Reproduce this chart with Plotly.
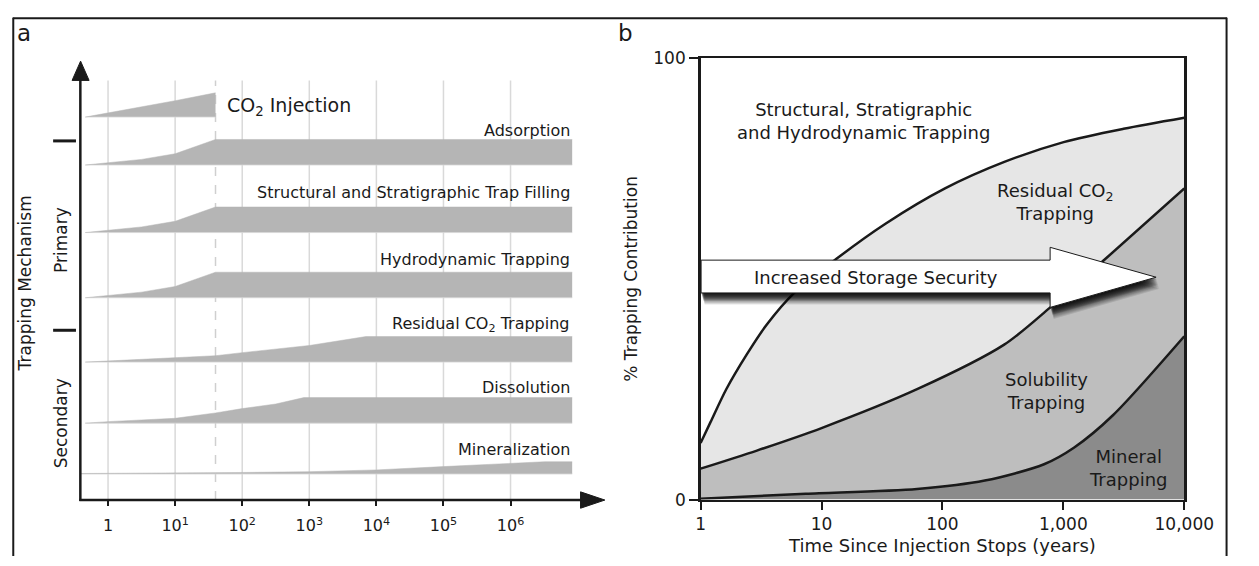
import math
import plotly.graph_objects as go

W, H = 1259, 566
FONT = "DejaVu Sans"
INK = "#1a1a1a"

# ---------------- Panel a data ----------------
a_tick_years = [1, 10, 100, 1000, 1e4, 1e5, 1e6]
a_tick_text = ["1", "10<sup>1</sup>", "10<sup>2</sup>", "10<sup>3</sup>",
               "10<sup>4</sup>", "10<sup>5</sup>", "10<sup>6</sup>"]
injection_end_years = 40

mech_names = ["CO<sub>2</sub> Injection", "Adsorption",
              "Structural and Stratigraphic Trap Filling", "Hydrodynamic Trapping",
              "Residual CO<sub>2</sub> Trapping", "Dissolution", "Mineralization"]

# time (years) and relative magnitude (0-1) of each mechanism
inj_t = [0.457, 1, 3.16, 10, 40]
inj_v = [0.0, 0.16, 0.38, 0.64, 0.95]
ads_t = [0.457, 1, 3.16, 10, 20, 40, 8.3e6]
ads_v = [0.0, 0.09, 0.22, 0.44, 0.72, 1.0, 1.0]
str_t = [0.457, 1, 3.16, 10, 20, 40, 8.3e6]
str_v = [0.0, 0.09, 0.22, 0.44, 0.72, 1.0, 1.0]
hyd_t = [0.457, 1, 3.16, 10, 20, 40, 8.3e6]
hyd_v = [0.0, 0.09, 0.22, 0.44, 0.72, 1.0, 1.0]
res_t = [0.457, 1, 10, 40, 100, 1000, 7000, 8.3e6]
res_v = [0.0, 0.04, 0.15, 0.25, 0.37, 0.65, 1.0, 1.0]
dis_t = [0.457, 1, 10, 40, 100, 316, 830, 8.3e6]
dis_v = [0.0, 0.06, 0.19, 0.40, 0.57, 0.75, 1.0, 1.0]
min_t = [0.386, 1, 10, 100, 1000, 1e4, 1e5, 1e6, 3.2e6, 8.3e6]
min_v = [0.02, 0.022, 0.03, 0.06, 0.09, 0.16, 0.29, 0.42, 0.48, 0.48]

# ---------------- Panel b data ----------------
b_tick_years = [1, 10, 100, 1000, 10000]
b_tick_text = ["1", "10", "100", "1,000", "10,000"]

struct_t = [1, 1.21, 1.63, 2.41, 3.49, 5.97, 13.2, 33.8, 105, 325, 1005, 3148, 10000]
struct_v = [12.8, 17.6, 25.0, 32.9, 39.5, 46.9, 54.5, 62.5, 70.5, 76.5, 81.0, 84.0, 86.5]
solub_t = [1, 2.92, 10, 61.7, 324, 776, 2138, 10000]
solub_v = [7.0, 11.1, 16.2, 25.0, 35.1, 43.5, 54.1, 70.5]
miner_t = [1, 7.41, 61.7, 224, 692, 1230, 2570, 10000]
miner_v = [0.2, 1.3, 2.4, 4.3, 8.0, 11.8, 19.1, 37.0]


def px(x):
    return x / W


def py(y):
    return 1 - y / H


fig = go.Figure()

# ---- panel a layout geometry (pixels) ----
A_L, A_R, A_T, A_B = 77.5, 617, 53, 508
row_base = [111, 160.7, 230.7, 298.3, 365, 428.3, 481]   # baseline pixel of each row
band_h = 26.5
BAND = "#b5b5b5"

rows = [(inj_t, inj_v), (ads_t, ads_v), (str_t, str_v), (hyd_t, hyd_v),
        (res_t, res_v), (dis_t, dis_v), (min_t, min_v)]
for (t, v), base_px in zip(rows, row_base):
    base = A_B - base_px
    fig.add_trace(go.Scatter(x=[t[0], t[-1]], y=[base, base], mode="lines",
                             line=dict(width=0.8, color="#d8d8d8"),
                             xaxis="x", yaxis="y", showlegend=False, hoverinfo="skip"))
    fig.add_trace(go.Scatter(x=t, y=[base + band_h * vv for vv in v], mode="lines",
                             line=dict(width=0.5, color=BAND), fill="tonexty",
                             fillcolor=BAND, xaxis="x", yaxis="y",
                             showlegend=False, hoverinfo="skip"))

shapes = []
grid_top = A_B - 73
for t in a_tick_years:
    shapes.append(dict(type="line", xref="x", yref="y", x0=t, x1=t,
                       y0=0, y1=grid_top, line=dict(color="#d9d9d9", width=1.5), layer="below"))
shapes.append(dict(type="line", xref="x", yref="y", x0=injection_end_years,
                   x1=injection_end_years, y0=0, y1=grid_top,
                   line=dict(color="#cfcfcf", width=1.5, dash="dash"), layer="below"))

# axes with arrows (panel a)
shapes.append(dict(type="line", xref="paper", yref="paper", x0=px(A_L), x1=px(A_L),
                   y0=py(A_B + 1), y1=py(72), line=dict(color=INK, width=2.5)))
shapes.append(dict(type="line", xref="paper", yref="paper", x0=px(A_L - 1), x1=px(593),
                   y0=py(A_B), y1=py(A_B), line=dict(color=INK, width=2.5)))
shapes.append(dict(type="path", xref="paper", yref="paper",
                   path=f"M {px(69)},{py(73)} L {px(86.5)},{py(73)} L {px(77.75)},{py(53)} Z",
                   fillcolor=INK, line=dict(color=INK, width=1)))
shapes.append(dict(type="path", xref="paper", yref="paper",
                   path=f"M {px(592)},{py(499.5)} L {px(592)},{py(516.5)} L {px(617)},{py(508)} Z",
                   fillcolor=INK, line=dict(color=INK, width=1)))
for yy in [135.7, 332]:
    shapes.append(dict(type="line", xref="paper", yref="paper", x0=px(49.5), x1=px(73),
                       y0=py(yy), y1=py(yy), line=dict(color=INK, width=3)))

# outer frame
for (x0, y0, x1, y1) in [(8, 8.5, 1257, 8.5), (8.5, 8, 8.5, 566), (1256.5, 8, 1256.5, 566)]:
    shapes.append(dict(type="line", xref="paper", yref="paper", x0=px(x0), x1=px(x1),
                       y0=py(y0), y1=py(y1), line=dict(color=INK, width=2)))

# ---- panel b ----
fig.add_trace(go.Scatter(x=miner_t, y=miner_v, mode="lines", fill="tozeroy",
                         fillcolor="#8b8b8b", line=dict(color=INK, width=2.5, shape="spline", smoothing=0.8),
                         xaxis="x2", yaxis="y2", showlegend=False, hoverinfo="skip"))
fig.add_trace(go.Scatter(x=solub_t, y=solub_v, mode="lines", fill="tonexty",
                         fillcolor="#bebebe", line=dict(color=INK, width=2.5, shape="spline", smoothing=0.8),
                         xaxis="x2", yaxis="y2", showlegend=False, hoverinfo="skip"))
fig.add_trace(go.Scatter(x=struct_t, y=struct_v, mode="lines", fill="tonexty",
                         fillcolor="#e6e6e6", line=dict(color=INK, width=2.5, shape="spline", smoothing=0.8),
                         xaxis="x2", yaxis="y2", showlegend=False, hoverinfo="skip"))

# storage security arrow (decoration) with a soft shadow
arrow_pts = [(716, 259.3), (1075, 259.3), (1075, 246), (1184, 277),
             (1075, 308.3), (1075, 293.3), (716, 293.3)]


def poly(pts, dx=0, dy=0):
    return "M " + " L ".join(f"{px(x + dx)},{py(y + dy)}" for x, y in pts) + " Z"


for k in range(1, 13):
    shapes.append(dict(type="path", xref="paper", yref="paper",
                       path=poly(arrow_pts, 0.3 * k, k),
                       fillcolor="black", opacity=0.2 if k < 9 else 0.1, line=dict(width=0)))
shapes.append(dict(type="path", xref="paper", yref="paper", path=poly(arrow_pts),
                   fillcolor="white", line=dict(color=INK, width=1)))

ann = []


def text(x, y, s, size, xanchor="center", angle=0):
    ann.append(dict(x=px(x), y=py(y), xref="paper", yref="paper", text=s, showarrow=False,
                    xanchor=xanchor, yanchor="middle", textangle=angle,
                    font=dict(family=FONT, size=size, color=INK)))


# panel a labels
text(226, 100, mech_names[0], 19, xanchor="left")
label_y = [125, 189, 259, 326, 391, 456]
for name, yy in zip(mech_names[1:], label_y):
    text(583, yy, name, 16, xanchor="right")
text(21, 283, "Trapping Mechanism", 17, angle=-90)
text(57, 238, "Primary", 17, angle=-90)
text(57, 428, "Secondary", 17, angle=-90)
text(20, 24, "a", 23)
text(638, 24, "b", 23)

# panel b labels
text(883, 115, "Structural, Stratigraphic<br>and Hydrodynamic Trapping", 18)
text(1081, 199, "Residual CO<sub>2</sub><br>Trapping", 18)
text(1071, 395, "Solubility<br>Trapping", 18)
text(1155, 475, "Mineral<br>Trapping", 18)
text(896, 277, "Increased Storage Security", 18)

fig.update_layout(
    width=W, height=H, autosize=False,
    margin=dict(l=0, r=0, t=0, b=0),
    paper_bgcolor="white", plot_bgcolor="rgba(0,0,0,0)",
    font=dict(family=FONT, color=INK),
    shapes=shapes, annotations=ann,
    xaxis=dict(domain=[px(A_L), px(A_R)], type="log", range=[-0.413, 7.406],
               tickvals=a_tick_years, ticktext=a_tick_text, ticks="outside", ticklen=5,
               tickwidth=2, tickcolor=INK, showline=False, showgrid=False, zeroline=False,
               tickfont=dict(size=16, family=FONT, color=INK), anchor="y",
               ticklabelstandoff=6),
    yaxis=dict(domain=[py(A_B), py(A_T)], range=[0, A_B - A_T], visible=False, anchor="x"),
    xaxis2=dict(domain=[px(715.5), px(1213)], type="log", range=[0, 4],
                tickvals=b_tick_years, ticktext=b_tick_text, ticks="outside", ticklen=8,
                tickwidth=2, tickcolor=INK, showline=True, mirror=True, linewidth=2.5,
                linecolor=INK, showgrid=False, zeroline=False, anchor="y2",
                tickfont=dict(size=17, family=FONT, color=INK),
                title=dict(text="Time Since Injection Stops (years)", standoff=6,
                           font=dict(size=18, family=FONT, color=INK))),
    yaxis2=dict(domain=[py(507.5), py(50)], range=[0, 100], tickvals=[0, 100],
                ticks="outside", ticklen=9, tickwidth=2, tickcolor=INK, showline=True,
                mirror=True, linewidth=2.5, linecolor=INK, showgrid=False, zeroline=False,
                anchor="x2", tickfont=dict(size=17, family=FONT, color=INK),
                title=dict(text="% Trapping Contribution", standoff=12,
                           font=dict(size=17, family=FONT, color=INK))),
)

fig.write_html("out.html", config={"staticPlot": True, "displayModeBar": False},
               post_script="document.body.style.margin='0px';document.body.style.overflow='hidden';")
